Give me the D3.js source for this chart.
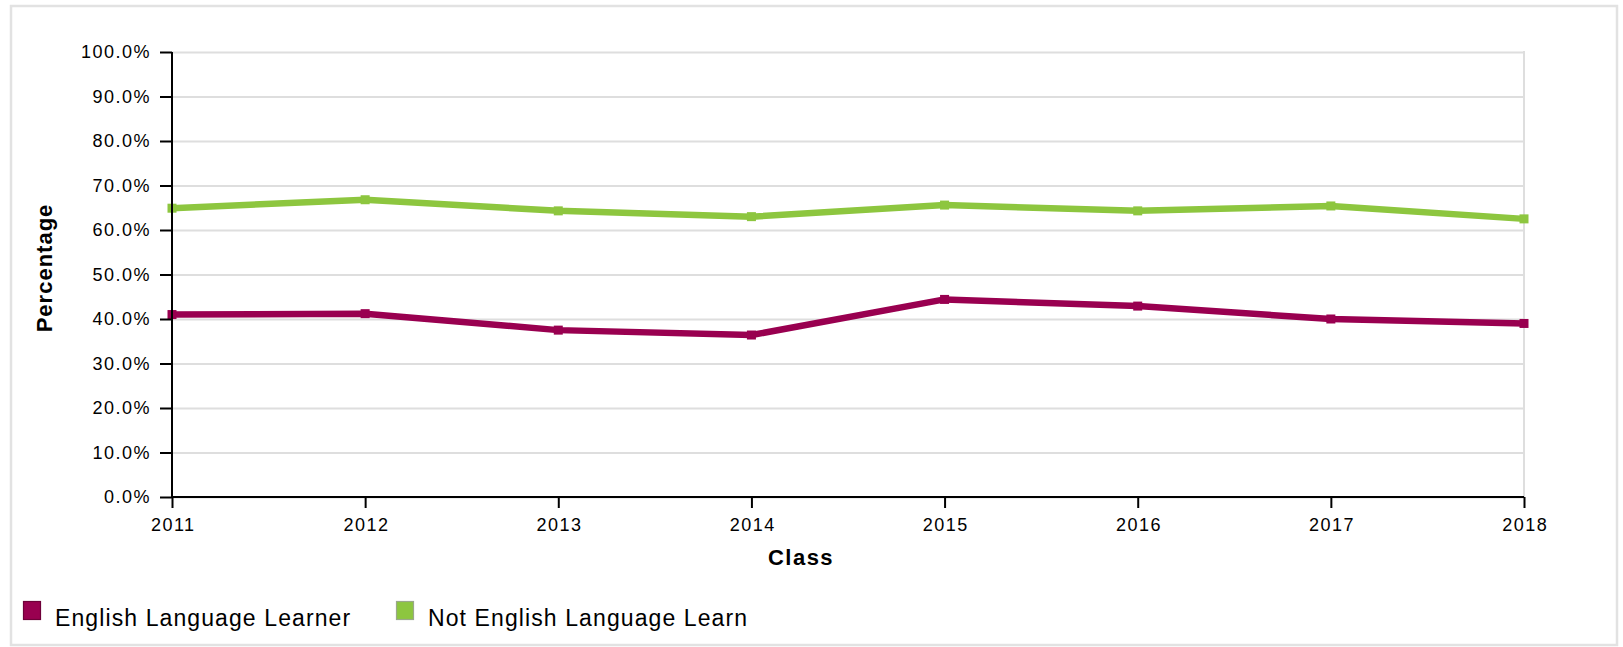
<!DOCTYPE html>
<html>
<head>
<meta charset="utf-8">
<script src="https://cdn.jsdelivr.net/npm/d3@7"></script>
<style>
  html, body { margin: 0; padding: 0; background: #fff; }
  svg { display: block; font-family: "Liberation Sans", Arial, Helvetica, sans-serif; }
  .grid line { stroke: #dedede; stroke-width: 2; }
  .grid path { display: none; }
  .axis path, .axis line { stroke: #000; stroke-width: 2; }
  .axis text { font-size: 18px; fill: #000; letter-spacing: 1.5px; }
</style>
</head>
<body>
<svg id="chart" width="1623" height="647"></svg>
<script>
// ---- data ----
const classes = ["2011", "2012", "2013", "2014", "2015", "2016", "2017", "2018"];
const seriesNames = ["English Language Learner", "Not English Language Learn"];
const ellValues = [41.0, 41.2, 37.5, 36.4, 44.4, 42.9, 40.0, 39.0];
const notEllValues = [64.9, 66.8, 64.3, 63.0, 65.6, 64.3, 65.4, 62.5];
const yTicks = [0, 10, 20, 30, 40, 50, 60, 70, 80, 90, 100];
const seriesColors = ["#990050", "#8dc63f"];
const legendStroke = ["#6e0039", "#9aa88a"];

const series = [
  { name: seriesNames[0], values: ellValues, color: seriesColors[0], stroke: legendStroke[0] },
  { name: seriesNames[1], values: notEllValues, color: seriesColors[1], stroke: legendStroke[1] }
];

const svg = d3.select("#chart");
const plotL = 172, plotR = 1524, plotT = 52, plotB = 497;

// outer frame
svg.append("rect")
  .attr("x", 11).attr("y", 6).attr("width", 1606).attr("height", 639)
  .attr("fill", "#fff").attr("stroke", "#e2e2e2").attr("stroke-width", 2.5);

const x = d3.scalePoint().domain(classes).range([plotL, plotR]);
const y = d3.scaleLinear().domain([0, 100]).range([plotB, plotT]);

// gridlines
svg.append("g").attr("class", "grid")
  .attr("transform", `translate(${plotL},0)`)
  .call(d3.axisLeft(y).tickValues(yTicks).tickSize(-(plotR - plotL)).tickFormat(""));

// right border of plot
svg.append("line")
  .attr("x1", plotR).attr("x2", plotR).attr("y1", plotT - 1).attr("y2", plotB)
  .attr("stroke", "#dedede").attr("stroke-width", 2);

// lines
const line = d3.line().x((d, i) => x(classes[i])).y(d => y(d));
series.forEach(s => {
  svg.append("path")
    .datum(s.values)
    .attr("fill", "none")
    .attr("stroke", s.color)
    .attr("stroke-width", 6.5)
    .attr("stroke-linejoin", "round")
    .attr("d", line);
  svg.append("g").selectAll("rect")
    .data(s.values)
    .join("rect")
    .attr("x", (d, i) => x(classes[i]) - 4.5)
    .attr("y", d => y(d) - 4.5)
    .attr("width", 9).attr("height", 9)
    .attr("fill", s.color);
});

// axes
svg.append("g").attr("class", "axis")
  .attr("transform", `translate(${plotL},0)`)
  .call(d3.axisLeft(y).tickValues(yTicks).tickSize(12).tickPadding(9)
    .tickFormat(d => d.toFixed(1) + "%"))
  .call(g => g.select(".domain").attr("d", `M0,${plotT}V${plotB}`));

svg.append("g").attr("class", "axis")
  .attr("transform", `translate(0,${plotB})`)
  .call(d3.axisBottom(x).tickSize(11).tickPadding(10))
  .call(g => g.select(".domain").attr("d", `M${plotL},0H${plotR}`))
  .call(g => g.selectAll("text").attr("dx", "0.75px"));

// axis titles
svg.append("text")
  .attr("x", 801).attr("y", 565)
  .attr("text-anchor", "middle")
  .style("font-size", "22px").style("font-weight", "bold").style("letter-spacing", "1.5px")
  .text("Class");

svg.append("text")
  .attr("transform", "translate(52,268) rotate(-90)")
  .attr("text-anchor", "middle")
  .style("font-size", "22px").style("font-weight", "bold").style("letter-spacing", "1px")
  .text("Percentage");

// legend
const legendX = [23, 396];
series.forEach((s, i) => {
  const g = svg.append("g").attr("transform", `translate(${legendX[i]},601)`);
  g.append("rect").attr("x", 0.5).attr("y", 0.5).attr("width", 17).attr("height", 18)
    .attr("fill", s.color).attr("stroke", s.stroke).attr("stroke-width", 1.2);
  g.append("text").attr("x", 32).attr("y", 25)
    .style("font-size", "23px").style("letter-spacing", "1.1px")
    .text(s.name);
});
</script>
</body>
</html>
